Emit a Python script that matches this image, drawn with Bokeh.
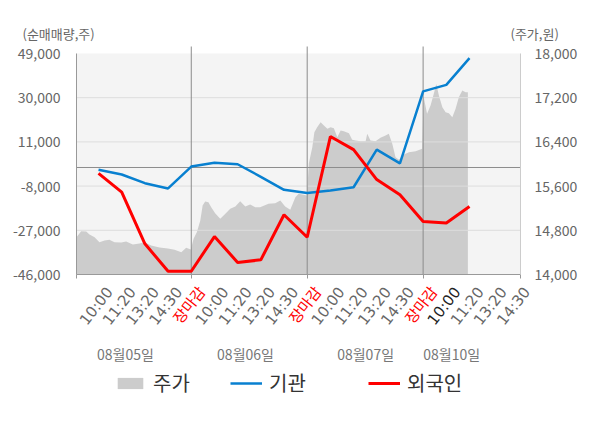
from bokeh.plotting import figure
from bokeh.models import (Range1d, LinearAxis, FixedTicker, NumeralTickFormatter,
                          ColumnDataSource, LabelSet, Label, Legend, LegendItem)
from bokeh.core.properties import value
from bokeh.embed import file_html
from bokeh.resources import INLINE

FONT = "Noto Sans CJK KR"
TICK_FONT = "'DejaVu Sans', 'Noto Sans CJK KR', sans-serif"

# ---------------- data ----------------
time_labels = ["10:00", "11:20", "13:20", "14:30", "장마감"] * 3 + ["10:00", "11:20", "13:20", "14:30"]
dates = ["08월05일", "08월06일", "08월07일", "08월10일"]
slots = list(range(1, 18))
inst = [-1000, -3000, -6750, -9000, 400, 2000, 1400, -4000, -9600, -11000,
        -9900, -8500, 7700, 1800, 32700, 35500, 47000]          # 기관
foreign = [-2500, -10600, -32800, -44600, -44600, -29700, -40800, -39700, -20300, -30000,
           13300, 7700, -5200, -11700, -23200, -23900, -16800]  # 외국인
price_t = [0.05, 0.25, 0.47, 0.61, 0.83, 1.04, 1.26, 1.47, 1.69, 1.98, 2.19, 2.48, 2.77, 2.98,
           3.27, 3.63, 3.99, 4.28, 4.57, 4.78, 4.98,
           5.1, 5.24, 5.39, 5.49, 5.6, 5.74, 5.86, 6.03, 6.25, 6.47, 6.68, 6.9, 7.11, 7.33,
           7.54, 7.76, 7.97, 8.33, 8.62, 8.84, 9.05, 9.27, 9.49, 9.63, 9.99,
           10.07, 10.22, 10.31, 10.43, 10.58, 10.72, 10.87, 11.01, 11.15, 11.3, 11.44, 11.58,
           11.8, 11.94, 12.09, 12.3, 12.52, 12.59, 12.73, 12.95, 13.16, 13.38, 13.52, 13.67,
           13.81, 13.96, 14.17, 14.39, 14.68, 14.96,
           15.02, 15.17, 15.32, 15.46, 15.57, 15.68, 15.83, 15.97, 16.11, 16.26, 16.4, 16.54,
           16.69, 16.83, 16.93]
price = [14675, 14784, 14778, 14724, 14675, 14585, 14615, 14628, 14585, 14579, 14597, 14543,
         14561, 14585, 14525, 14489, 14471, 14447, 14404, 14483, 14452,
         14646, 14766, 14977, 15249, 15321, 15309, 15218, 15109, 15008, 15099, 15189, 15231,
         15327, 15231, 15267, 15218, 15218, 15279, 15291, 15339, 15231, 15171, 15399, 15460,
         15430,
         16009, 16304, 16576, 16666, 16757, 16697, 16637, 16666, 16648, 16485, 16606, 16594,
         16558, 16438, 16425, 16413, 16413, 16546, 16425, 16413, 16474, 16516, 16546, 16365,
         16123, 16075, 16172, 16214, 16232, 16275,
         17222, 16908, 17059, 17270, 17450, 17240, 17028, 16938, 16920, 16847, 16999, 17209,
         17330, 17300, 17300]
net_ticks = [-46000, -27000, -8000, 11000, 30000, 49000]
price_ticks = [14000, 14800, 15600, 16400, 17200, 18000]
day_bounds = [5, 10, 15]

# ---------------- geometry (pixels of the chart box on the canvas) ----------------
W, H = 600, 428
CL, CR, CT, CB = 76, 520, 53, 274
XS, XE = 0.05, 19.2
NLO, NHI = net_ticks[0], net_ticks[-1]
PLO, PHI = price_ticks[0], price_ticks[-1]
xpx = (XE - XS) / (CR - CL)
ypx = (NHI - NLO) / (CB - CT)
ppx = (PHI - PLO) / (CB - CT)

p = figure(width=W, height=H, output_backend="svg", toolbar_location=None,
           x_range=Range1d(XS - CL * xpx, XE + (W - CR) * xpx),
           y_range=Range1d(NLO - (H - CB) * ypx, NHI + CT * ypx),
           min_border=0)
p.extra_y_ranges = {"price": Range1d(PLO - (H - CB) * ppx, PHI + CT * ppx)}
p.background_fill_color = "white"
p.border_fill_color = "white"
p.outline_line_color = None
p.grid.visible = False

# chart box background
p.quad(left=[XS], right=[XE], bottom=[NLO], top=[NHI], fill_color="#f4f4f4", line_color=None)

# price area
r_area = p.varea(x=price_t, y1=PLO, y2=price, y_range_name="price", fill_color="#cccccc")

# horizontal grid lines
gt = net_ticks[1:-1]
p.segment(x0=[XS] * len(gt), x1=[XE] * len(gt), y0=gt, y1=gt, line_color="#dddddd", line_width=1)
# zero line
p.segment(x0=[XS], x1=[XE], y0=[0], y1=[0], line_color="#8c8c8c", line_width=1)
# day separators
p.segment(x0=day_bounds, x1=day_bounds, y0=[NLO] * 3, y1=[NHI + 7 * ypx] * 3,
          line_color="#8c8c8c", line_width=1)

r_inst = p.line(slots, inst, line_color="#0880d0", line_width=2.5)
r_for = p.line(slots, foreign, line_color="#ff0000", line_width=3)

# bottom axis: line + tick marks at day boundaries
xa = p.xaxis[0]
xa.fixed_location = NLO
xa.bounds = (XS, XE)
xa.ticker = FixedTicker(ticks=[], minor_ticks=[XS] + day_bounds + [XE])
xa.axis_line_color = "#999999"
xa.minor_tick_out = 4
xa.minor_tick_in = 0
xa.minor_tick_line_color = "#999999"

# left axis
ya = p.yaxis[0]
ya.fixed_location = XS
ya.bounds = (NLO, NHI)
ya.ticker = FixedTicker(ticks=net_ticks)
ya.formatter = NumeralTickFormatter(format="0,0")

# right axis
ax_r = LinearAxis(y_range_name="price", ticker=FixedTicker(ticks=price_ticks),
                  formatter=NumeralTickFormatter(format="0,0"))
p.add_layout(ax_r, "right")
ax_r.fixed_location = XE
ax_r.bounds = (PLO, PHI)
for ax, col in [(ya, "#999999"), (ax_r, "#cccccc")]:
    ax.axis_line_color = col
    ax.major_tick_line_color = None
    ax.minor_tick_line_color = None
    ax.major_label_text_font = FONT
    ax.major_label_text_font_size = "14px"
    ax.major_label_text_color = "#666666"
    ax.major_label_standoff = 10
ax_r.major_label_standoff = 8

# axis titles
p.add_layout(Label(x=22, y=H - 33, x_units="screen", y_units="screen", text="(순매매량,주)",
                   text_font=FONT, text_font_size="13px", text_color="#666666",
                   text_baseline="middle"))
p.add_layout(Label(x=510, y=H - 33, x_units="screen", y_units="screen", text="(주가,원)",
                   text_font=FONT, text_font_size="13px", text_color="#666666",
                   text_baseline="middle"))

# time tick labels
tick_pos = list(range(1, len(time_labels) + 1))
tick_col = ["#ff0000" if t == "장마감" else "#666666" for t in time_labels]
tick_col[15] = "#222222"
src = ColumnDataSource(dict(x=tick_pos, text=time_labels, color=tick_col))
p.add_layout(LabelSet(x="x", y=H - (CB + 9), y_units="screen", text="text", source=src,
                      text_color="color", angle=52, angle_units="deg",
                      text_align="right", text_baseline="top", x_offset=4,
                      text_font=value(TICK_FONT), text_font_size=value("15px")))

# date labels
date_pos = [2.16, 7.34, 12.52, 16.23]
dsrc = ColumnDataSource(dict(x=date_pos, text=dates))
p.add_layout(LabelSet(x="x", y=H - 353, y_units="screen", text="text", source=dsrc,
                      text_color="#777777", text_align="center", text_baseline="middle",
                      text_font=value(FONT), text_font_size=value("14px")))

# legends
for rend, lab, lx in [(r_area, "주가", 114), (r_inst, "기관", 230), (r_for, "외국인", 368)]:
    lg = Legend(items=[LegendItem(label=lab, renderers=[rend])], location=(lx, H - 397),
                orientation="horizontal", glyph_width=32, glyph_height=14, label_standoff=7,
                label_height=24, label_text_font=FONT, label_text_font_size="20px",
                label_text_color="#333333", padding=0, margin=0,
                border_line_color=None, background_fill_alpha=0)
    p.add_layout(lg)

open("out.html", "w").write(file_html(p, INLINE))
